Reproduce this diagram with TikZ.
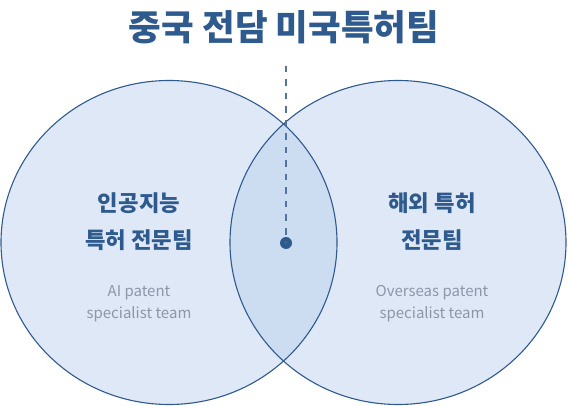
\documentclass[tikz,border=0pt]{standalone}
\usepackage{fontspec}
\usepackage{xcolor}
\usepackage{tikz}
\newfontfamily\krfont{Noto Sans CJK KR}

\definecolor{teamblue}{HTML}{2E5A8E}
\definecolor{dashblue}{HTML}{52749F}
\definecolor{setfill}{HTML}{DFE8F6}
\definecolor{lensfill}{HTML}{CCDCF1}
\definecolor{subgray}{HTML}{8C97A8}

\tikzset{
  setedge/.style={draw=teamblue, line width=1.1pt},
  teamname/.style={text=teamblue, align=center,
    font=\krfont\bfseries\fontsize{22.3}{37}\selectfont},
  teamsub/.style={text=subgray, align=center,
    font=\krfont\fontsize{15}{22}\selectfont},
}

\begin{document}
\begin{tikzpicture}[x=1pt,y=1pt]
  \useasboundingbox (0,0) rectangle (568,405);

  % two team sets
  \fill[setfill] (169,162.5) ellipse [x radius=168, y radius=162];
  \fill[setfill] (398,162.5) ellipse [x radius=168, y radius=162];
  \begin{scope}
    \clip (169,162.5) ellipse [x radius=168, y radius=162];
    \fill[lensfill] (398,162.5) ellipse [x radius=168, y radius=162];
  \end{scope}
  \draw[setedge] (169,162.5) ellipse [x radius=168, y radius=162];
  \draw[setedge] (398,162.5) ellipse [x radius=168, y radius=162];

  % title and pointer
  \node[text=teamblue, font=\krfont\bfseries\fontsize{35.5}{42}\selectfont]
    (title) at (284,377.5) {중국 전담 미국특허팀};
  \coordinate (ptrtop) at (286,339);
  \node[circle, fill=teamblue, inner sep=0pt, minimum size=12pt] (dot) at (286,162) {};
  \draw[dashblue, line width=2pt, dash pattern=on 6.5pt off 7pt] (ptrtop) -- (dot.center);

  % left set
  \node[teamname] (aiteam) at (139,183.5) {인공지능\\특허 전문팀};
  \node[teamsub] (aisub) at (139,101.5) {AI patent\\specialist team};

  % right set
  \node[teamname] (osteam) at (432,183.5) {해외 특허\\전문팀};
  \node[teamsub] (ossub) at (432,101.5) {Overseas patent\\specialist team};
\end{tikzpicture}
\end{document}
